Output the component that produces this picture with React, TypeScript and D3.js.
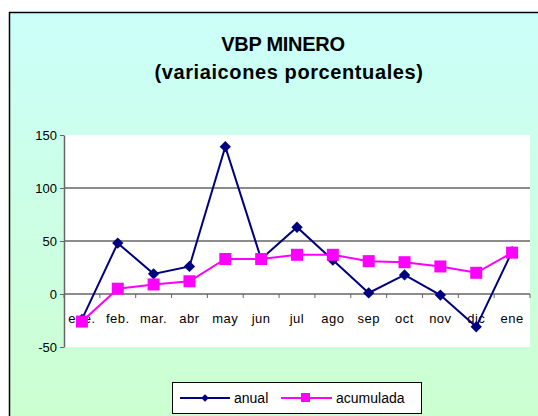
//@ts-nocheck
import React, { useRef, useEffect } from 'react'
import * as d3 from 'd3'

const months = ['ene.', 'feb.', 'mar.', 'abr', 'may', 'jun', 'jul', 'ago', 'sep', 'oct', 'nov', 'dic', 'ene']
const anual = [-24, 48, 19, 26, 139, 33, 63, 32, 1, 18, -1, -31, 40]
const acumulada = [-26, 5, 9, 12, 33, 33, 37, 37, 31, 30, 26, 20, 39]
const yTicks = [-50, 0, 50, 100, 150]
const gridValues = [50, 100]

const W = 538
const H = 416
const FONT = 'Arial, "Liberation Sans", sans-serif'

const App = () => {
  const node = useRef<SVGSVGElement | null>(null)

  useEffect(() => {
    const svg = d3.select(node.current)
    svg.selectAll('*').remove()
    svg.attr('width', W).attr('height', H).attr('font-family', FONT)

    const defs = svg.append('defs')
    const grad = defs.append('linearGradient').attr('id', 'bg').attr('x1', 0).attr('y1', 0).attr('x2', 0).attr('y2', 1)
    grad.append('stop').attr('offset', '0%').attr('stop-color', '#ccfffa')
    grad.append('stop').attr('offset', '100%').attr('stop-color', '#ccffcc')

    svg.append('rect').attr('width', W).attr('height', H).attr('fill', '#ffffff')
    svg
      .append('rect')
      .attr('x', 9.5)
      .attr('y', 12.5)
      .attr('width', 560)
      .attr('height', 440)
      .attr('fill', 'url(#bg)')
      .attr('stroke', '#000')
      .attr('stroke-width', 1.5)

    // title
    svg
      .append('text')
      .attr('x', 283)
      .attr('y', 51)
      .attr('text-anchor', 'middle')
      .attr('font-weight', 'bold')
      .attr('font-size', 20)
      .attr('letter-spacing', -0.3)
      .text('VBP MINERO')
    svg
      .append('text')
      .attr('x', 289)
      .attr('y', 79)
      .attr('text-anchor', 'middle')
      .attr('font-weight', 'bold')
      .attr('font-size', 20)
      .attr('letter-spacing', 0.6)
      .text('(variaicones porcentuales)')

    const margin = { left: 64, right: 530, top: 135, bottom: 347 }

    const x = d3.scaleBand().domain(months.map((m, i) => i)).range([margin.left, margin.right])
    const y = d3.scaleLinear().domain([-50, 150]).range([margin.bottom, margin.top])
    const cx = (i) => x(i) + x.bandwidth() / 2

    svg
      .append('rect')
      .attr('x', margin.left)
      .attr('y', margin.top)
      .attr('width', margin.right - margin.left)
      .attr('height', margin.bottom - margin.top)
      .attr('fill', '#ffffff')

    // gridlines
    svg
      .append('g')
      .selectAll('line')
      .data(gridValues)
      .join('line')
      .attr('x1', margin.left)
      .attr('x2', margin.right)
      .attr('y1', (d) => y(d))
      .attr('y2', (d) => y(d))
      .attr('stroke', '#666')
      .attr('stroke-width', 1.5)

    // y axis
    const yAxis = svg
      .append('g')
      .attr('transform', `translate(${margin.left},0)`)
      .call(d3.axisLeft(y).tickValues(yTicks).tickSize(4).tickSizeOuter(0).tickFormat((d) => String(d)))
    yAxis.select('.domain').attr('stroke', '#666').attr('stroke-width', 1.5)
    yAxis.selectAll('.tick line').attr('stroke', '#666')
    yAxis.selectAll('.tick text').attr('font-size', 13).attr('fill', '#000').attr('x', -7).attr('font-family', FONT)

    // x axis at 0
    const xAxis = svg.append('g').attr('transform', `translate(0,${y(0)})`)
    xAxis
      .append('line')
      .attr('x1', margin.left)
      .attr('x2', margin.right)
      .attr('stroke', '#666')
      .attr('stroke-width', 1.5)
    xAxis
      .selectAll('line.tk')
      .data(d3.range(months.length + 1))
      .join('line')
      .attr('class', 'tk')
      .attr('x1', (i) => margin.left + i * x.step())
      .attr('x2', (i) => margin.left + i * x.step())
      .attr('y1', 0)
      .attr('y2', 4)
      .attr('stroke', '#666')
    xAxis
      .selectAll('text')
      .data(months)
      .join('text')
      .attr('x', (d, i) => cx(i))
      .attr('y', 29)
      .attr('text-anchor', 'middle')
      .attr('font-size', 13)
      .attr('letter-spacing', 0.5)
      .text((d) => d)

    const line = d3
      .line()
      .x((d, i) => cx(i))
      .y((d) => y(d))

    // anual
    svg.append('path').attr('d', line(anual)).attr('fill', 'none').attr('stroke', '#000080').attr('stroke-width', 2)
    svg
      .append('g')
      .selectAll('path')
      .data(anual)
      .join('path')
      .attr('d', d3.symbol(d3.symbolSquare, 64))
      .attr('transform', (d, i) => `translate(${cx(i)},${y(d)}) rotate(45)`)
      .attr('fill', '#000080')

    // acumulada
    svg.append('path').attr('d', line(acumulada)).attr('fill', 'none').attr('stroke', '#ff00ff').attr('stroke-width', 2)
    svg
      .append('g')
      .selectAll('rect')
      .data(acumulada)
      .join('rect')
      .attr('x', (d, i) => cx(i) - 6)
      .attr('y', (d) => y(d) - 6)
      .attr('width', 12)
      .attr('height', 12)
      .attr('fill', '#ff00ff')

    // legend
    const lg = svg.append('g')
    lg.append('rect')
      .attr('x', 172.5)
      .attr('y', 382.5)
      .attr('width', 249)
      .attr('height', 31)
      .attr('fill', '#fff')
      .attr('stroke', '#000')
    lg.append('line').attr('x1', 180).attr('x2', 230).attr('y1', 398).attr('y2', 398).attr('stroke', '#000080').attr('stroke-width', 2)
    lg.append('path').attr('d', d3.symbol(d3.symbolSquare, 30)).attr('transform', 'translate(205,398) rotate(45)').attr('fill', '#000080')
    lg.append('text').attr('x', 234).attr('y', 403).attr('font-size', 14).text('anual')
    lg.append('line').attr('x1', 281).attr('x2', 332).attr('y1', 398).attr('y2', 398).attr('stroke', '#ff00ff').attr('stroke-width', 2)
    lg.append('rect').attr('x', 301).attr('y', 393).attr('width', 9).attr('height', 9).attr('fill', '#ff00ff')
    lg.append('text').attr('x', 336).attr('y', 403).attr('font-size', 14).text('acumulada')
  }, [node])

  return <svg ref={node} style={{ position: 'absolute', left: 0, top: 0, display: 'block' }}></svg>
}

export default App
